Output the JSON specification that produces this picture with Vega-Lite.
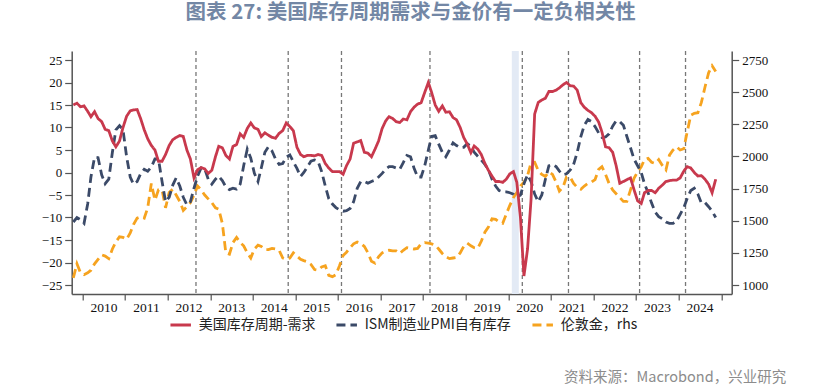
{
"$schema": "https://vega.github.io/schema/vega-lite/v6.json",
"width": 660, "height": 243,
"autosize": {"type": "none"},
"padding": {"left": 71.7, "top": 51, "right": 90.3, "bottom": 92},
"background": "white",
"title": {"text": "图表 27: 美国库存周期需求与金价有一定负相关性", "anchor": "middle", "dx": 9, "offset": 27, "fontSize": 20.5, "font": "Noto Sans CJK SC", "fontWeight": "bold", "color": "#7387a5"},
"config": {
  "view": {"stroke": null},
  "axis": {"grid": false, "domainColor": "#555", "domainWidth": 1.5, "tickColor": "#555", "tickWidth": 1.2, "tickSize": 7, "labelFont": "Liberation Serif", "labelFontSize": 13, "labelColor": "#111", "labelPadding": 3, "labelOverlap": false},
  "legend": {"orient": "none", "legendX": 97, "legendY": 262, "direction": "horizontal", "symbolType": "stroke", "symbolSize": 420, "symbolStrokeWidth": 3, "labelFont": "Noto Sans CJK SC", "labelFontSize": 14, "labelColor": "#222", "labelOffset": 6, "columnPadding": 14}
},
"datasets": {
"cuts": [{"d":"2012-09-01"},{"d":"2014-11-01"},{"d":"2016-02-01"},{"d":"2018-03-01"},{"d":"2020-05-01"},{"d":"2021-06-01"},{"d":"2023-02-01"},{"d":"2024-03-01"}],
"band": [{"d":"2020-02-01","d2":"2020-04-01"}],
"main": [
{"d":"2009-10-15","r":15.0,"b":-11.0,"g":1055},
{"d":"2009-11-15","r":15.4,"b":-10.0,"g":1165},
{"d":"2009-12-15","r":14.6,"b":-10.5,"g":1095},
{"d":"2010-01-15","r":14.8,"b":-11.3,"g":1080},
{"d":"2010-02-15","r":13.6,"b":-7.0,"g":1095},
{"d":"2010-03-15","r":12.4,"b":-1.0,"g":1115},
{"d":"2010-04-15","r":13.5,"b":3.4,"g":1165},
{"d":"2010-05-15","r":12.0,"b":3.3,"g":1200},
{"d":"2010-06-15","r":11.3,"b":-0.5,"g":1235},
{"d":"2010-07-15","r":9.6,"b":-2.5,"g":1225},
{"d":"2010-08-15","r":9.3,"b":-1.5,"g":1205},
{"d":"2010-09-15","r":7.0,"b":4.5,"g":1280},
{"d":"2010-10-15","r":5.7,"b":9.5,"g":1335},
{"d":"2010-11-15","r":7.0,"b":10.4,"g":1375},
{"d":"2010-12-15","r":10.0,"b":9.5,"g":1370},
{"d":"2011-01-15","r":12.5,"b":3.5,"g":1355},
{"d":"2011-02-15","r":13.7,"b":-1.0,"g":1405},
{"d":"2011-03-15","r":13.9,"b":-2.6,"g":1470},
{"d":"2011-04-15","r":14.0,"b":-2.0,"g":1520},
{"d":"2011-05-15","r":12.0,"b":-0.3,"g":1530},
{"d":"2011-06-15","r":9.5,"b":0.7,"g":1520},
{"d":"2011-07-15","r":7.5,"b":0.3,"g":1600},
{"d":"2011-08-15","r":6.0,"b":1.2,"g":1790},
{"d":"2011-09-15","r":5.0,"b":3.0,"g":1660},
{"d":"2011-10-15","r":2.5,"b":3.0,"g":1740},
{"d":"2011-11-15","r":2.5,"b":-2.0,"g":1740},
{"d":"2011-12-15","r":4.0,"b":-6.5,"g":1600},
{"d":"2012-01-15","r":6.0,"b":-5.5,"g":1720},
{"d":"2012-02-15","r":7.3,"b":-2.8,"g":1745},
{"d":"2012-03-15","r":7.8,"b":-1.2,"g":1700},
{"d":"2012-04-15","r":8.2,"b":-3.0,"g":1650},
{"d":"2012-05-15","r":8.0,"b":-5.5,"g":1580},
{"d":"2012-06-15","r":5.0,"b":-7.2,"g":1610},
{"d":"2012-07-15","r":3.0,"b":-6.5,"g":1640},
{"d":"2012-08-15","r":-1.2,"b":-3.5,"g":1700},
{"d":"2012-09-15","r":0.6,"b":-0.8,"g":1770},
{"d":"2012-10-15","r":1.1,"b":1.0,"g":1740},
{"d":"2012-11-15","r":0.8,"b":0.8,"g":1700},
{"d":"2012-12-15","r":-0.2,"b":-1.5,"g":1670},
{"d":"2013-01-15","r":0.5,"b":-2.6,"g":1640},
{"d":"2013-02-15","r":3.5,"b":-1.5,"g":1600},
{"d":"2013-03-15","r":5.8,"b":-0.8,"g":1590},
{"d":"2013-04-15","r":5.5,"b":-1.8,"g":1480},
{"d":"2013-05-15","r":3.8,"b":-3.2,"g":1250},
{"d":"2013-06-15","r":3.0,"b":-3.8,"g":1240},
{"d":"2013-07-15","r":5.8,"b":-3.5,"g":1330},
{"d":"2013-08-15","r":6.2,"b":-3.7,"g":1370},
{"d":"2013-09-15","r":8.6,"b":-2.6,"g":1330},
{"d":"2013-10-15","r":7.8,"b":1.5,"g":1305},
{"d":"2013-11-15","r":9.8,"b":5.2,"g":1250},
{"d":"2013-12-15","r":11.0,"b":3.2,"g":1210},
{"d":"2014-01-15","r":9.9,"b":-0.2,"g":1280},
{"d":"2014-02-15","r":9.6,"b":-2.0,"g":1310},
{"d":"2014-03-15","r":8.0,"b":1.0,"g":1300},
{"d":"2014-04-15","r":8.8,"b":4.5,"g":1275},
{"d":"2014-05-15","r":8.3,"b":5.7,"g":1275},
{"d":"2014-06-15","r":7.8,"b":4.8,"g":1285},
{"d":"2014-07-15","r":7.6,"b":3.0,"g":1280},
{"d":"2014-08-15","r":8.7,"b":1.8,"g":1270},
{"d":"2014-09-15","r":9.3,"b":2.0,"g":1210},
{"d":"2014-10-15","r":11.0,"b":3.4,"g":1200},
{"d":"2014-11-15","r":10.2,"b":3.9,"g":1210},
{"d":"2014-12-15","r":9.3,"b":2.4,"g":1250},
{"d":"2015-01-15","r":5.6,"b":0.9,"g":1225},
{"d":"2015-02-15","r":4.0,"b":-0.9,"g":1200},
{"d":"2015-03-15","r":3.5,"b":0.0,"g":1190},
{"d":"2015-04-15","r":3.8,"b":1.3,"g":1180},
{"d":"2015-05-15","r":3.8,"b":2.5,"g":1160},
{"d":"2015-06-15","r":3.7,"b":2.8,"g":1120},
{"d":"2015-07-15","r":4.0,"b":2.5,"g":1115},
{"d":"2015-08-15","r":3.8,"b":0.2,"g":1140},
{"d":"2015-09-15","r":2.0,"b":-3.0,"g":1150},
{"d":"2015-10-15","r":1.0,"b":-5.8,"g":1075},
{"d":"2015-11-15","r":0.2,"b":-7.0,"g":1065},
{"d":"2015-12-15","r":0.2,"b":-7.8,"g":1080},
{"d":"2016-01-15","r":0.2,"b":-8.3,"g":1150},
{"d":"2016-02-15","r":-0.4,"b":-8.6,"g":1230},
{"d":"2016-03-15","r":1.5,"b":-8.5,"g":1255},
{"d":"2016-04-15","r":3.0,"b":-8.0,"g":1290},
{"d":"2016-05-15","r":6.5,"b":-6.5,"g":1320},
{"d":"2016-06-15","r":6.8,"b":-3.5,"g":1335},
{"d":"2016-07-15","r":7.1,"b":-2.0,"g":1325},
{"d":"2016-08-15","r":4.5,"b":-2.0,"g":1300},
{"d":"2016-09-15","r":4.3,"b":-2.4,"g":1250},
{"d":"2016-10-15","r":3.5,"b":-2.0,"g":1185},
{"d":"2016-11-15","r":5.2,"b":-1.7,"g":1170},
{"d":"2016-12-15","r":7.0,"b":-1.0,"g":1220},
{"d":"2017-01-15","r":9.8,"b":-0.2,"g":1250},
{"d":"2017-02-15","r":11.5,"b":0.8,"g":1265},
{"d":"2017-03-15","r":12.4,"b":1.3,"g":1270},
{"d":"2017-04-15","r":12.0,"b":1.3,"g":1265},
{"d":"2017-05-15","r":11.3,"b":1.0,"g":1265},
{"d":"2017-06-15","r":11.1,"b":0.7,"g":1245},
{"d":"2017-07-15","r":11.9,"b":2.2,"g":1270},
{"d":"2017-08-15","r":11.7,"b":3.8,"g":1290},
{"d":"2017-09-15","r":13.5,"b":3.5,"g":1285},
{"d":"2017-10-15","r":14.5,"b":1.0,"g":1280},
{"d":"2017-11-15","r":15.2,"b":-1.0,"g":1285},
{"d":"2017-12-15","r":15.5,"b":-1.0,"g":1320},
{"d":"2018-01-15","r":17.8,"b":1.5,"g":1330},
{"d":"2018-02-15","r":20.0,"b":5.0,"g":1325},
{"d":"2018-03-15","r":17.8,"b":8.0,"g":1320},
{"d":"2018-04-15","r":15.0,"b":8.2,"g":1310},
{"d":"2018-05-15","r":13.6,"b":6.3,"g":1280},
{"d":"2018-06-15","r":14.8,"b":4.5,"g":1245},
{"d":"2018-07-15","r":13.4,"b":3.5,"g":1220},
{"d":"2018-08-15","r":13.5,"b":5.0,"g":1205},
{"d":"2018-09-15","r":12.2,"b":6.6,"g":1210},
{"d":"2018-10-15","r":11.7,"b":6.0,"g":1215},
{"d":"2018-11-15","r":10.0,"b":5.5,"g":1250},
{"d":"2018-12-15","r":7.8,"b":5.6,"g":1300},
{"d":"2019-01-15","r":6.3,"b":6.4,"g":1325},
{"d":"2019-02-15","r":4.4,"b":5.8,"g":1305},
{"d":"2019-03-15","r":5.9,"b":4.5,"g":1290},
{"d":"2019-04-15","r":5.2,"b":3.6,"g":1285},
{"d":"2019-05-15","r":4.0,"b":2.8,"g":1340},
{"d":"2019-06-15","r":2.0,"b":1.8,"g":1410},
{"d":"2019-07-15","r":0.5,"b":0.6,"g":1450},
{"d":"2019-08-15","r":-0.8,"b":-1.5,"g":1515},
{"d":"2019-09-15","r":-2.0,"b":-3.0,"g":1510},
{"d":"2019-10-15","r":-2.0,"b":-4.0,"g":1490},
{"d":"2019-11-15","r":-2.2,"b":-4.3,"g":1480},
{"d":"2019-12-15","r":-1.5,"b":-4.3,"g":1550},
{"d":"2020-01-15","r":-0.3,"b":-4.5,"g":1620},
{"d":"2020-02-15","r":0.2,"b":-4.8,"g":1680},
{"d":"2020-03-15","r":-2.2,"b":-5.5,"g":1720},
{"d":"2020-04-15","r":-10.0,"b":-5.0,"g":1770},
{"d":"2020-05-15","r":-23.0,"b":-2.5,"g":1800},
{"d":"2020-06-15","r":-17.0,"b":-0.5,"g":1850},
{"d":"2020-07-15","r":-6.0,"b":-2.0,"g":1950},
{"d":"2020-08-15","r":13.0,"b":-4.8,"g":1955},
{"d":"2020-09-15","r":15.6,"b":-6.5,"g":1890},
{"d":"2020-10-15","r":16.1,"b":-5.0,"g":1860},
{"d":"2020-11-15","r":16.5,"b":-1.5,"g":1845},
{"d":"2020-12-15","r":18.0,"b":1.5,"g":1880},
{"d":"2021-01-15","r":18.0,"b":1.8,"g":1860},
{"d":"2021-02-15","r":18.3,"b":1.3,"g":1800},
{"d":"2021-03-15","r":18.8,"b":0.3,"g":1730},
{"d":"2021-04-15","r":19.5,"b":-0.5,"g":1760},
{"d":"2021-05-15","r":20.0,"b":-0.3,"g":1840},
{"d":"2021-06-15","r":19.3,"b":0.5,"g":1840},
{"d":"2021-07-15","r":19.2,"b":1.8,"g":1790},
{"d":"2021-08-15","r":18.3,"b":4.5,"g":1760},
{"d":"2021-09-15","r":15.5,"b":8.0,"g":1745},
{"d":"2021-10-15","r":14.5,"b":10.5,"g":1770},
{"d":"2021-11-15","r":13.8,"b":11.8,"g":1790},
{"d":"2021-12-15","r":13.3,"b":11.3,"g":1800},
{"d":"2022-01-15","r":12.5,"b":10.2,"g":1820},
{"d":"2022-02-15","r":11.2,"b":8.8,"g":1900},
{"d":"2022-03-15","r":9.0,"b":7.8,"g":1920},
{"d":"2022-04-15","r":5.7,"b":7.9,"g":1860},
{"d":"2022-05-15","r":5.5,"b":8.6,"g":1790},
{"d":"2022-06-15","r":4.5,"b":10.3,"g":1740},
{"d":"2022-07-15","r":1.5,"b":11.5,"g":1710},
{"d":"2022-08-15","r":-2.4,"b":11.3,"g":1680},
{"d":"2022-09-15","r":-2.0,"b":10.5,"g":1650},
{"d":"2022-10-15","r":-1.6,"b":8.0,"g":1650},
{"d":"2022-11-15","r":-1.2,"b":5.5,"g":1740},
{"d":"2022-12-15","r":-3.8,"b":3.0,"g":1830},
{"d":"2023-01-15","r":-6.3,"b":1.5,"g":1880},
{"d":"2023-02-15","r":-6.9,"b":0.0,"g":1920},
{"d":"2023-03-15","r":-4.5,"b":-2.5,"g":1975},
{"d":"2023-04-15","r":-4.0,"b":-4.5,"g":1985},
{"d":"2023-05-15","r":-4.0,"b":-6.8,"g":1955},
{"d":"2023-06-15","r":-4.5,"b":-8.8,"g":1945},
{"d":"2023-07-15","r":-3.5,"b":-9.8,"g":1975},
{"d":"2023-08-15","r":-2.8,"b":-10.3,"g":1930},
{"d":"2023-09-15","r":-2.0,"b":-11.0,"g":1895},
{"d":"2023-10-15","r":-1.8,"b":-11.3,"g":2010},
{"d":"2023-11-15","r":-1.7,"b":-11.3,"g":2050},
{"d":"2023-12-15","r":-1.7,"b":-10.8,"g":2075},
{"d":"2024-01-15","r":-1.2,"b":-9.3,"g":2050},
{"d":"2024-02-15","r":0.3,"b":-7.8,"g":2060},
{"d":"2024-03-15","r":1.3,"b":-5.8,"g":2190},
{"d":"2024-04-15","r":1.0,"b":-4.0,"g":2320},
{"d":"2024-05-15","r":0.0,"b":-3.5,"g":2335},
{"d":"2024-06-15","r":-0.8,"b":-4.8,"g":2340},
{"d":"2024-07-15","r":-0.7,"b":-6.8,"g":2420},
{"d":"2024-08-15","r":-1.5,"b":-6.7,"g":2540},
{"d":"2024-09-15","r":-2.6,"b":-7.6,"g":2650},
{"d":"2024-10-15","r":-4.5,"b":-8.6,"g":2705},
{"d":"2024-11-15","r":-1.5,"b":-10.0,"g":2660}
]
},
"encoding": {
  "x": {"field": "d", "type": "temporal",
    "scale": {"domain": ["2009-10-01", "2025-04-01"]},
    "axis": {"title": "资料来源：Macrobond，兴业研究", "titleAnchor": "end", "titleAlign": "right", "titleX": 714, "titleY": 83, "titleBaseline": "middle", "titleFont": "Noto Sans CJK SC", "titleFontSize": 14.5, "titleFontWeight": "normal", "titleColor": "#8c8c8c",
      "values": [{"year":2010,"month":1,"date":1},{"year":2011,"month":1,"date":1},{"year":2012,"month":1,"date":1},{"year":2013,"month":1,"date":1},{"year":2014,"month":1,"date":1},{"year":2015,"month":1,"date":1},{"year":2016,"month":1,"date":1},{"year":2017,"month":1,"date":1},{"year":2018,"month":1,"date":1},{"year":2019,"month":1,"date":1},{"year":2020,"month":1,"date":1},{"year":2021,"month":1,"date":1},{"year":2022,"month":1,"date":1},{"year":2023,"month":1,"date":1},{"year":2024,"month":1,"date":1},{"year":2025,"month":1,"date":1}],
      "labelExpr": "year(datum.value) < 2025 ? timeFormat(datum.value, '%Y') : ''",
      "labelOffset": 21, "labelFlush": false, "labelOverlap": false, "labelFontSize": 13.5, "labelPadding": 0, "tickSize": 6}}
},
"layer": [
  {
    "layer": [
      {"data": {"name": "band"}, "mark": {"type": "rect", "color": "#e3eaf5"}, "encoding": {"x2": {"field": "d2"}}},
      {"data": {"name": "cuts"}, "mark": {"type": "rule", "color": "#777777", "strokeDash": [4, 3], "strokeWidth": 1.3}, "encoding": {}},
      {"data": {"name": "main"}, "mark": {"type": "line", "strokeWidth": 2.8},
       "encoding": {
         "y": {"field": "g", "type": "quantitative", "scale": {"domain": [930, 2820], "nice": false, "zero": false},
               "axis": {"orient": "right", "title": null, "format": "d", "values": [1000,1250,1500,1750,2000,2250,2500,2750], "labelFontSize": 13}},
         "color": {"datum": "伦敦金，rhs", "scale": {"domain": ["美国库存周期-需求", "ISM制造业PMI自有库存", "伦敦金，rhs"], "range": ["#c8394d", "#3b4a68", "#f6a31f"]}, "legend": {"title": null}},
         "strokeDash": {"datum": "伦敦金，rhs", "scale": {"domain": ["美国库存周期-需求", "ISM制造业PMI自有库存", "伦敦金，rhs"], "range": [[1, 0], [9, 5], [9, 5]]}, "legend": {"title": null}}
       }}
    ]
  },
  {
    "data": {"name": "main"},
    "layer": [
      {"mark": {"type": "line", "strokeWidth": 2.8},
       "encoding": {
         "y": {"field": "b", "type": "quantitative", "scale": {"domain": [-27, 27], "nice": false},
               "axis": {"orient": "left", "title": null, "format": "d", "values": [-25,-20,-15,-10,-5,0,5,10,15,20,25], "labelOverlap": false, "labelBound": false, "tickCount": 11}},
         "color": {"datum": "ISM制造业PMI自有库存", "scale": {"domain": ["美国库存周期-需求", "ISM制造业PMI自有库存", "伦敦金，rhs"], "range": ["#c8394d", "#3b4a68", "#f6a31f"]}, "legend": {"title": null}},
         "strokeDash": {"datum": "ISM制造业PMI自有库存", "scale": {"domain": ["美国库存周期-需求", "ISM制造业PMI自有库存", "伦敦金，rhs"], "range": [[1, 0], [9, 5], [9, 5]]}, "legend": {"title": null}}
       }},
      {"mark": {"type": "line", "strokeWidth": 2.8},
       "encoding": {
         "y": {"field": "r", "type": "quantitative", "scale": {"domain": [-27, 27], "nice": false},
               "axis": {"orient": "left", "title": null, "format": "d", "values": [-25,-20,-15,-10,-5,0,5,10,15,20,25], "labelOverlap": false, "labelBound": false, "tickCount": 11}},
         "color": {"datum": "美国库存周期-需求", "scale": {"domain": ["美国库存周期-需求", "ISM制造业PMI自有库存", "伦敦金，rhs"], "range": ["#c8394d", "#3b4a68", "#f6a31f"]}, "legend": {"title": null}},
         "strokeDash": {"datum": "美国库存周期-需求", "scale": {"domain": ["美国库存周期-需求", "ISM制造业PMI自有库存", "伦敦金，rhs"], "range": [[1, 0], [9, 5], [9, 5]]}, "legend": {"title": null}}
       }}
    ]
  }
],
"resolve": {"scale": {"y": "independent"}, "axis": {"y": "independent"}}
}
